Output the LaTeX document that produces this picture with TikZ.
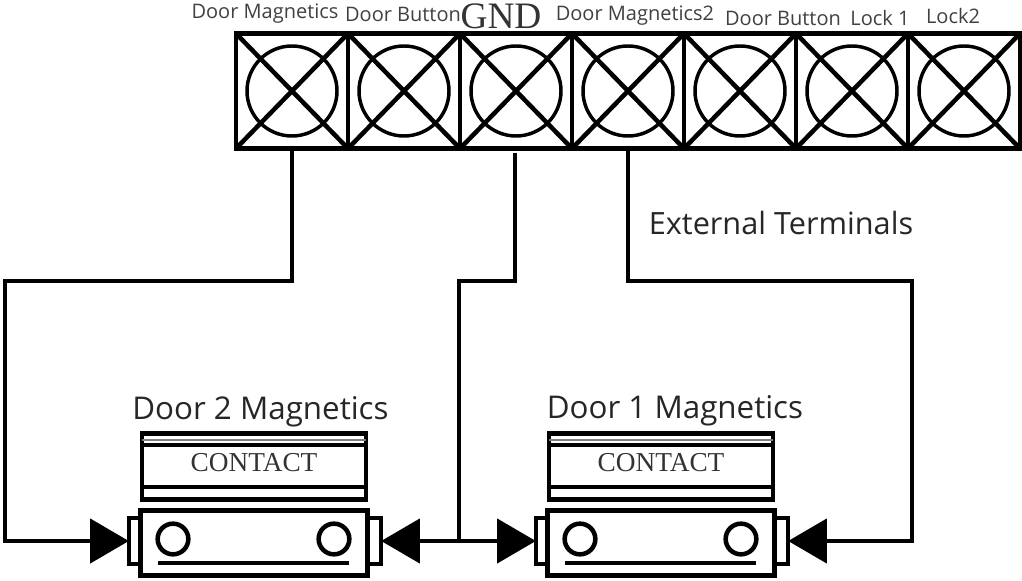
\documentclass[tikz,border=0pt]{standalone}
\usepackage{fontspec}
\setmainfont{Liberation Serif}
\setsansfont{Open Sans}
\usetikzlibrary{arrows.meta}
\tikzset{
  cell/.style={draw,line width=3.4pt,minimum width=84pt,minimum height=86.25pt,outer sep=0pt,inner sep=0pt},
  knob/.style={draw,circle,line width=2.6pt,minimum size=67.5pt,inner sep=0pt},
  wire/.style={line width=3.2pt},
  bigtip/.style={-{Triangle[length=29pt,width=33pt]}},
  contactbox/.style={draw,line width=3.6pt,minimum width=168pt,minimum height=49pt,outer sep=0pt,inner sep=0pt},
  sensorbox/.style={draw,fill=white,line width=3.6pt,minimum width=170pt,minimum height=49pt,outer sep=0pt,inner sep=0pt},
  pinbox/.style={draw,line width=3pt,minimum width=10pt,minimum height=34.5pt,outer sep=0pt,inner sep=0pt},
  hole/.style={draw,circle,line width=3.4pt,minimum size=23pt,inner sep=0pt},
  toplabel/.style={font=\sffamily\fontsize{15}{17}\selectfont,text=black!75,inner sep=0pt},
  biglabel/.style={font=\sffamily\fontsize{23}{26}\selectfont,text=black!85,inner sep=0pt},
  doorlabel/.style={font=\sffamily\fontsize{23.5}{26}\selectfont,text=black!85,inner sep=0pt},
  contacttext/.style={font=\fontsize{20.5}{23}\selectfont,text=black!80,inner sep=0pt}
}
\begin{document}
\begin{tikzpicture}[x=0.75pt,y=-0.75pt]
\useasboundingbox (0,0) rectangle (1022,581);
% terminal strip
\foreach \i in {1,...,7} {
  \pgfmathsetmacro{\cellx}{292+112*(\i-1)}
  \node[cell] (term\i) at (\cellx,91) {};
  \node[knob] (knob\i) at (\cellx,91) {};
  \draw[line width=3.4pt] (term\i.north west) -- (term\i.south east);
  \draw[line width=3.4pt] (term\i.south west) -- (term\i.north east);
}
% top labels
\node[toplabel] (lab1) at (265,14) {Door Magnetics};
\node[toplabel] (lab2) at (403,14) {Door Button};
\node[font=\fontsize{28}{30}\selectfont,text=black!80,inner sep=0pt] (lab3) at (501,16) {GND};
\node[toplabel] (lab4) at (635,16) {Door Magnetics2};
\node[toplabel] (lab5) at (783,18) {Door Button};
\node[toplabel] (lab6) at (880,18) {Lock 1};
\node[toplabel] (lab7) at (953,16) {Lock2};
\node[biglabel] (extlabel) at (781,223) {External Terminals};
% door contacts
\foreach \dx/\n in {0/2,407/1} {
  \node[pinbox] (pinL\n) at (135.5+\dx,541) {};
  \node[pinbox] (pinR\n) at (374.5+\dx,541) {};
  \node[sensorbox] (sensor\n) at (254+\dx,543) {};
  \node[hole] (holeL\n) at (173+\dx,539) {};
  \node[hole] (holeR\n) at (334+\dx,539) {};
  \draw[line width=3.4pt] (158+\dx,563) -- (349+\dx,563);
  \node[contactbox] (contact\n) at (254+\dx,466.5) {};
  \draw[line width=1.2pt,black!50] (contact\n.north west) ++(0,6) -- ++(224,0);
  \draw[line width=3.4pt] (contact\n.north west) ++(0,11) -- ++(224,0);
  \draw[line width=3.4pt] (contact\n.south west) ++(0,-12) -- ++(224,0);
  \node[contacttext] (ctext\n) at (254+\dx,463) {CONTACT};
}
\node[doorlabel] (door2) at (260.5,412) {Door 2 Magnetics};
\node[doorlabel] (door1) at (675,411) {Door 1 Magnetics};
% wires
\coordinate (bendA) at (5,281);
\coordinate (bendB) at (912,281);
\coordinate (bendC) at (459,281);
\coordinate (gndtop) at (515,153);
\coordinate (junction) at (459,541);
\draw[wire,bigtip] (term1.south) |- (bendA) |- (pinL2.west);
\draw[wire,bigtip] (term4.south) |- (bendB) |- (pinR1.east);
\draw[wire] (gndtop) |- (bendC) -- (junction);
\draw[wire,bigtip] (junction) -- (pinR2.east);
\draw[wire,bigtip] (junction) -- (pinL1.west);
\end{tikzpicture}
\end{document}
